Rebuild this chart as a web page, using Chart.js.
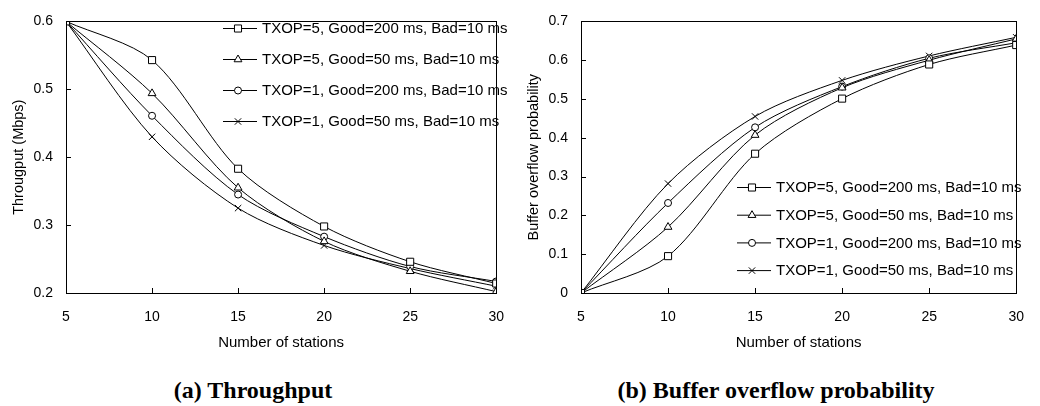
<!DOCTYPE html>
<html>
<head>
<meta charset="utf-8">
<script src="https://cdn.jsdelivr.net/npm/chart.js@4/dist/chart.umd.min.js"></script>
<style>
    body { margin: 0; background: #fff; width: 1040px; height: 406px; position: relative; overflow: hidden; }
    canvas { position: absolute; top: 0; }
    #grafico-vazao { left: 0; }
    #grafico-buffer { left: 520px; }
    .legenda {
        position: absolute;
        font-family: "Liberation Serif", "Times New Roman", serif;
        font-weight: bold;
        font-size: 24px;
        line-height: 24px;
        white-space: nowrap;
        transform: translate(-50%, -50%);
    }
</style>
</head>
<body>
<canvas id="grafico-vazao" width="520" height="360"></canvas>
<canvas id="grafico-buffer" width="520" height="360"></canvas>
<div class="legenda" style="left:253px; top:390px;">(a) Throughput</div>
<div class="legenda" style="left:776px; top:390px;">(b) Buffer overflow probability</div>

<script>
// EIXO X: numero de estacoes
const estacoes = [5, 10, 15, 20, 25, 30];

const nomesSeries = [
    'TXOP=5, Good=200 ms, Bad=10 ms',
    'TXOP=5, Good=50 ms, Bad=10 ms',
    'TXOP=1, Good=200 ms, Bad=10 ms',
    'TXOP=1, Good=50 ms, Bad=10 ms'
];

// VAZAO (Mbps)
const vazaoT5G200 = [0.600, 0.543, 0.383, 0.298, 0.246, 0.214];
const vazaoT5G50  = [0.600, 0.494, 0.355, 0.276, 0.232, 0.202];
const vazaoT1G200 = [0.600, 0.461, 0.345, 0.283, 0.239, 0.217];
const vazaoT1G50  = [0.600, 0.430, 0.325, 0.270, 0.236, 0.210];

// PROBABILIDADE DE OVERFLOW DO BUFFER
const bufferT5G200 = [0, 0.095, 0.359, 0.501, 0.589, 0.639];
const bufferT5G50  = [0, 0.170, 0.407, 0.529, 0.600, 0.655];
const bufferT1G200 = [0, 0.232, 0.427, 0.532, 0.605, 0.645];
const bufferT1G50  = [0, 0.282, 0.455, 0.548, 0.611, 0.659];

const marcadores = [
    { style: 'rect', radius: 5 },
    { style: 'triangle', radius: 4.5 },
    { style: 'circle', radius: 3.5 },
    { style: 'crossRot', radius: 4.5 }
];

const FONTE = '"Liberation Sans", Arial, sans-serif';

function montarDatasets(series) {
    return series.map((valores, i) => ({
        label: nomesSeries[i],
        data: estacoes.map((x, j) => ({ x: x, y: valores[j] })),
        borderColor: '#000',
        borderWidth: 1,
        backgroundColor: '#fff',
        pointStyle: marcadores[i].style,
        pointRadius: marcadores[i].radius,
        pointBorderWidth: 1,
        pointBackgroundColor: '#fff',
        pointBorderColor: '#000',
        tension: 0.3,
        fill: false
    }));
}

// moldura, marcas internas dos eixos e legenda desenhada dentro da area do grafico
const pluginMoldura = {
    id: 'moldura',
    afterDatasetsDraw(chart, args, opts) {
        const ctx = chart.ctx;
        const area = chart.chartArea;
        const sx = chart.scales.x;
        const sy = chart.scales.y;
        ctx.save();
        ctx.strokeStyle = '#000';
        ctx.lineWidth = 1;
        ctx.strokeRect(Math.round(area.left) + 0.5, Math.round(area.top) + 0.5,
            Math.round(area.right - area.left), Math.round(area.bottom - area.top));
        ctx.beginPath();
        sx.ticks.forEach(t => {
            const px = Math.round(sx.getPixelForValue(t.value)) + 0.5;
            ctx.moveTo(px, area.bottom);
            ctx.lineTo(px, area.bottom - 5);
        });
        sy.ticks.forEach(t => {
            const py = Math.round(sy.getPixelForValue(t.value)) + 0.5;
            ctx.moveTo(area.left, py);
            ctx.lineTo(area.left + 5, py);
        });
        ctx.stroke();

        // LEGENDA
        ctx.font = '15px ' + FONTE;
        ctx.textBaseline = 'middle';
        ctx.fillStyle = '#000';
        chart.data.datasets.forEach((ds, i) => {
            const y = opts.y + i * opts.passo;
            ctx.beginPath();
            ctx.moveTo(opts.x, y + 0.5);
            ctx.lineTo(opts.x + 34, y + 0.5);
            ctx.stroke();
            ctx.fillStyle = '#fff';
            Chart.helpers.drawPoint(ctx, {
                pointStyle: ds.pointStyle,
                radius: ds.pointRadius,
                borderWidth: 1,
                rotation: 0
            }, opts.x + 15, y + 0.5);
            ctx.fillStyle = '#000';
            ctx.fillText(ds.label, opts.x + 39, y + 1);
        });
        ctx.restore();
    }
};

function opcoesGrafico(cfg) {
    return {
        responsive: false,
        animation: false,
        layout: { padding: { top: 9, right: cfg.padDireita, left: 0, bottom: 0 } },
        plugins: {
            legend: { display: false },
            tooltip: { enabled: false },
            moldura: cfg.legenda
        },
        scales: {
            x: {
                type: 'linear',
                min: 5,
                max: 30,
                afterFit: (scale) => { scale.height = 67; },
                ticks: { stepSize: 5, padding: 16, color: '#000', font: { family: FONTE, size: 14 } },
                grid: { display: false, drawTicks: false },
                border: { display: true, color: '#000' },
                title: {
                    display: true,
                    text: 'Number of stations',
                    color: '#000',
                    font: { family: FONTE, size: 15 },
                    padding: { top: 0, bottom: 8 }
                }
            },
            y: {
                min: cfg.yMin,
                max: cfg.yMax,
                afterFit: (scale) => { scale.width = cfg.larguraY; },
                ticks: {
                    stepSize: 0.1,
                    padding: 13,
                    color: '#000',
                    font: { family: FONTE, size: 14 },
                    callback: (v) => String(+v.toFixed(1))
                },
                grid: { display: false, drawTicks: false },
                border: { display: true, color: '#000' },
                title: {
                    display: true,
                    text: cfg.tituloY,
                    color: '#000',
                    font: { family: FONTE, size: 14.5 },
                    padding: { top: cfg.padTitulo, bottom: 0 }
                }
            }
        }
    };
}

function gerarGraficoVazao() {
    const ctx = document.getElementById('grafico-vazao').getContext('2d');
    new Chart(ctx, {
        type: 'line',
        data: { datasets: montarDatasets([vazaoT5G200, vazaoT5G50, vazaoT1G200, vazaoT1G50]) },
        options: opcoesGrafico({
            yMin: 0.2, yMax: 0.6, larguraY: 66, padDireita: 8, padTitulo: 10,
            tituloY: 'Througput (Mbps)',
            legenda: { x: 223, y: 28, passo: 31 }
        }),
        plugins: [pluginMoldura]
    });
}

function gerarGraficoBuffer() {
    const ctx = document.getElementById('grafico-buffer').getContext('2d');
    new Chart(ctx, {
        type: 'line',
        data: { datasets: montarDatasets([bufferT5G200, bufferT5G50, bufferT1G200, bufferT1G50]) },
        options: opcoesGrafico({
            yMin: 0, yMax: 0.7, larguraY: 61, padDireita: 13, padTitulo: 5,
            tituloY: 'Buffer overflow probability',
            legenda: { x: 217, y: 187, passo: 27.7 }
        }),
        plugins: [pluginMoldura]
    });
}

gerarGraficoVazao();
gerarGraficoBuffer();
</script>
</body>
</html>
